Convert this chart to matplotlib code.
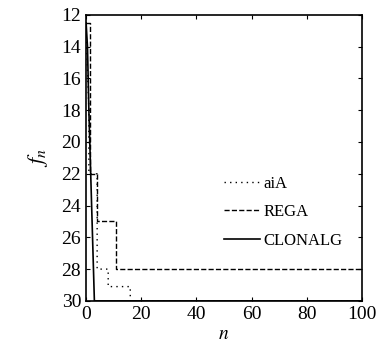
import matplotlib
matplotlib.use("Agg")
import matplotlib.pyplot as plt

# step-like convergence curves
aia_n = [0, 1, 1, 4, 4, 8, 8, 16, 16, 100]
aia_f = [13, 18, 22, 22, 28, 28, 29.1, 29.1, 30, 30]

rega_n = [0, 1.5, 1.5, 4, 4, 11, 11, 100]
rega_f = [12.5, 12.5, 22, 22, 25, 25, 28, 28]

clonalg_n = [0, 0.5, 1, 2, 3, 100]
clonalg_f = [12.5, 14, 18, 24, 30, 30]

xticks = [0, 20, 40, 60, 80, 100]
yticks = [12, 14, 16, 18, 20, 22, 24, 26, 28, 30]

plt.rcParams['font.family'] = ['Liberation Serif', 'DejaVu Serif']
plt.rcParams['mathtext.fontset'] = 'stix'

fig = plt.figure(figsize=(3.76, 3.54), dpi=100)
ax = fig.add_axes([0.229, 0.150, 0.734, 0.808])

ax.plot(aia_n, aia_f, color='black', lw=1.0, ls=(0, (1, 3)), label='aiA')
ax.plot(rega_n, rega_f, color='black', lw=1.0, ls='--', label='REGA')
ax.plot(clonalg_n, clonalg_f, color='black', lw=1.2, ls='-', label='CLONALG')

ax.set_xlim(0, 100)
ax.set_ylim(30, 12)
ax.set_xticks(xticks)
ax.set_yticks(yticks)
ax.tick_params(direction='in', top=True, right=True, labelsize=14, length=3)
for s in ax.spines.values():
    s.set_linewidth(1.2)

ax.set_xlabel('$n$', fontsize=14, labelpad=2)
ax.set_ylabel('$f_n$', fontsize=16, labelpad=8)

ax.legend(loc='lower right', bbox_to_anchor=(0.985, 0.13), frameon=False,
          fontsize=12, handlelength=2.2, handletextpad=0.2, labelspacing=0.75)

fig.savefig('out.png', dpi=100)
